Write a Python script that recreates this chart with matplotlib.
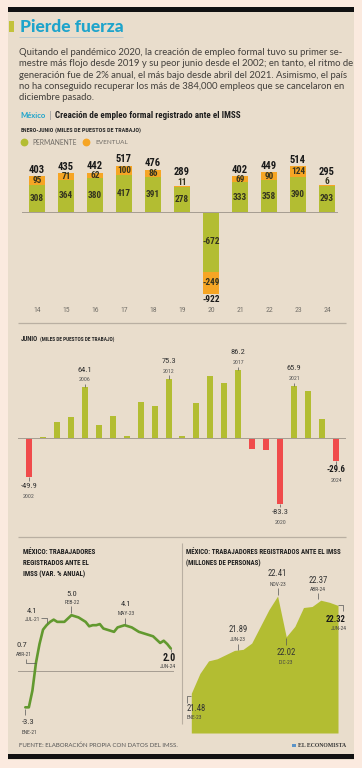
import numpy as np
import matplotlib
matplotlib.use("Agg")
import matplotlib.pyplot as plt
from matplotlib.transforms import Affine2D
from matplotlib.lines import Line2D
from matplotlib.patches import Rectangle
from matplotlib import font_manager as fm

# ---------------- data ----------------
h1_years = ["14", "15", "16", "17", "18", "19", "20", "21", "22", "23", "24"]
h1_permanente = [308, 364, 380, 417, 391, 278, -672, 333, 358, 390, 293]
h1_eventual = [95, 71, 62, 100, 86, 11, -249, 69, 90, 124, 6]
h1_total = [403, 435, 442, 517, 476, 289, -922, 402, 449, 514, 295]

junio_years = list(range(2002, 2025))
junio_vals = [-49.9, 1.5, 19.9, 26.0, 64.1, 16.0, 28.0, 2.5, 46.0, 40.0, 75.3, 2.5,
              44.0, 79.0, 69.0, 86.2, -14.0, -15.0, -83.3, 65.9, 60.0, 23.6, -29.6]
junio_marked = [2002, 2006, 2012, 2017, 2020, 2021, 2024]

MES = ["ENE", "FEB", "MAR", "ABR", "MAY", "JUN", "JUL", "AGO", "SEP", "OCT", "NOV", "DIC"]
var_meses = [f"{m}-{y}" for y in (21, 22, 23, 24) for m in MES][:42]
var_anual = [-3.3, -3.3, -1.8, 0.7, 2.4, 3.7, 4.1, 4.4, 4.6, 4.4, 4.4, 4.4,
             4.7, 5.0, 4.9, 4.8, 4.6, 4.4, 4.0, 4.1, 4.1, 4.2, 3.8, 3.7,
             3.6, 3.5, 3.9, 4.0, 4.1, 4.0, 3.9, 3.7, 3.5, 3.4, 3.3, 3.2,
             3.1, 2.8, 2.5, 2.7, 2.4, 2.0]

emp_meses = [f"{m}-{y}" for y in (23, 24) for m in MES][:18]
emp_millones = [21.48, 21.67, 21.79, 21.81, 21.85, 21.89, 21.90, 21.96, 22.12,
                22.28, 22.41, 22.02, 22.12, 22.30, 22.31, 22.37, 22.35, 22.32]

paragraph = [
    "Quitando el pandémico 2020, la creación de empleo formal tuvo su primer se-",
    "mestre más flojo desde 2019 y su peor junio desde el 2002; en tanto, el ritmo de",
    "generación fue de 2% anual, el más bajo desde abril del 2021. Asimismo, el país",
    "no ha conseguido recuperar los más de 384,000 empleos que se cancelaron en",
    "diciembre pasado.",
]

# ---------------- style ----------------
W, H, DPI = 362, 768, 100
OUTER = "#fbeadf"
PANEL = "#e9ddcc"
GREEN = "#b3bd32"
ORANGE = "#f6a524"
RED = "#f04b4b"
LINEG = "#62992f"
CYAN = "#1ea4cb"
SEP = "#b9afa2"
DARK = "#2a2a2a"

names = {f.name for f in fm.fontManager.ttflist}


def pick(cands, default="DejaVu Sans"):
    for c in cands:
        if c in names:
            return c
    return default


COND = pick(["Roboto Condensed", "Liberation Sans Narrow", "DejaVu Sans Condensed",
             "Open Sans Condensed"], None)
CSTR = "normal"
if COND is None:
    for nm in ["Roboto", "Open Sans", "Noto Sans", "DejaVu Sans", "Liberation Sans"]:
        if any(f.name == nm and "condensed" in str(f.stretch) for f in fm.fontManager.ttflist):
            COND = nm
            CSTR = "condensed"
            break
if COND is None:
    COND = pick(["Roboto", "Lato", "Noto Sans"], "DejaVu Sans")
SANS = pick(["Lato", "Open Sans", "DejaVu Sans"])
SERIF = pick(["Liberation Serif", "DejaVu Serif"])

fig = plt.figure(figsize=(W / DPI, H / DPI), dpi=DPI)
fig.patch.set_facecolor(OUTER)
TPX = Affine2D().scale(1, -1).translate(0, H)
REND = fig.canvas.get_renderer()


def fit(s, width, family=COND, weight="normal", stretch=None, size0=10):
    stretch = CSTR if (stretch is None and family == COND) else (stretch or "normal")
    t = fig.text(0, 0, s, fontsize=size0, family=family, weight=weight, fontstretch=stretch)
    w = t.get_window_extent(renderer=REND).width
    t.remove()
    return size0 * width / w


def tx(x, y, s, size, family=COND, weight="normal", color=DARK, ha="left", va="center", **kw):
    stretch = CSTR if family == COND else "normal"
    return fig.text(x, y, s, transform=TPX, fontsize=size, family=family, weight=weight,
                    color=color, ha=ha, va=va, fontstretch=stretch, **kw)


def pline(xs, ys, color=DARK, lw=0.6, **kw):
    fig.add_artist(Line2D(xs, ys, transform=TPX, color=color, lw=lw,
                          solid_capstyle="butt", **kw))


def ax_at(x0, y0, x1, y1):
    ax = fig.add_axes([x0 / W, 1 - y1 / H, (x1 - x0) / W, (y1 - y0) / H])
    ax.patch.set_visible(False)
    for s in ax.spines.values():
        s.set_visible(False)
    ax.set_xticks([])
    ax.set_yticks([])
    return ax


def to_px(ax, x, y):
    xd, yd = ax.transData.transform((x, y))
    return xd, H - yd


# ---------------- frame ----------------
fig.add_artist(Rectangle((8, 7), 345.5, 752.5, transform=TPX, facecolor=PANEL,
                         edgecolor="none", zorder=-5))
fig.add_artist(Rectangle((8, 7), 345.5, 5.2, transform=TPX, facecolor="#111111",
                         edgecolor="none", zorder=-4))
fig.add_artist(Rectangle((8, 754.3), 345.5, 5.0, transform=TPX, facecolor="#111111",
                         edgecolor="none", zorder=-4))

# ---------------- header ----------------
fig.add_artist(Rectangle((9, 20.5), 5, 11, transform=TPX, facecolor="#c3c23a",
                         edgecolor="none", zorder=-3))
tx(19.5, 26.5, "Pierde fuerza", fit("Pierde fuerza", 103, SANS, "black"), family=SANS,
   weight="black", color=CYAN)
pline([19, 123], [37.3, 37.3], color="#b5c8cf", lw=0.6)

psize = fit(paragraph[0], 326, SANS, "normal")
for k, line in enumerate(paragraph):
    tx(19, 52.5 + 11.25 * k, line, psize, family=SANS, weight="normal", color="#423f3b")

tx(20.5, 115, "México", fit("México", 25.5, SANS, "bold"), family=SANS, weight="bold", color=CYAN)
tx(49, 115, "|", 7.5, family=SANS, color="#9a9a9a")
sub = "Creación de empleo formal registrado ante el IMSS"
tx(55, 115, sub, fit(sub, 184, COND, "bold"), weight="bold", color="#1e1e1e")

tx(20.5, 130, "ENERO-JUNIO", fit("ENERO-JUNIO", 33, COND, "bold"), weight="bold")
par = "(MILES DE PUESTOS DE TRABAJO)"
tx(55, 130.3, par, fit(par, 86, COND, "bold"), weight="bold")

fig.add_artist(Line2D([24.3], [142.3], transform=TPX, marker="o", ms=4.6, color=GREEN, lw=0))
fig.add_artist(Line2D([86], [142.3], transform=TPX, marker="o", ms=4.6, color=ORANGE, lw=0))
tx(32.3, 142.3, "PERMANENTE", fit("PERMANENTE", 43.7, SANS), family=SANS,
   color="#6f6b65")
tx(95, 142.3, "EVENTUAL", fit("EVENTUAL", 32, SANS), family=SANS, color="#6f6b65")

# ---------------- enero-junio stacked bars ----------------
ax1 = ax_at(22, 150, 342, 302)
x1 = np.arange(len(h1_years))
ax1.set_xlim(-0.517, len(h1_years) - 1 + 0.517)
ax1.set_ylim(-(302 - 212) / 0.089, (212 - 150) / 0.089)
ax1.bar(x1, h1_permanente, width=0.55, color=GREEN, lw=0)
ax1.bar(x1, h1_eventual, bottom=h1_permanente, width=0.55, color=ORANGE, lw=0)
ax1.axhline(0, color="#a59d92", lw=0.7, xmax=0.985)

S_tot = fit("403", 16, COND, "bold")
S_seg = fit("308", 14, COND, "bold")
S_neg = fit("-922", 17.5, COND, "bold")
S_yr = fit("20", 7.5, COND)
for i in x1:
    p, e, t = h1_permanente[i], h1_eventual[i], h1_total[i]
    cx, y0 = to_px(ax1, i, 0)
    _, yp = to_px(ax1, i, p)
    _, yt = to_px(ax1, i, p + e)
    tx(cx, (y0 + yp) / 2, str(p), S_seg, weight="bold", color="#34331f", ha="center")
    if t > 0:
        if e >= 30:
            tx(cx, (yp + yt) / 2, str(e), S_seg, weight="bold", color="#34331f", ha="center")
            tx(cx, yt - 6.5, str(t), S_tot, weight="bold", color="#1a1a1a", ha="center")
        else:
            tx(cx, yt - 4.0, str(e), S_seg, weight="bold", color="#34331f", ha="center")
            tx(cx, yt - 13.8, str(t), S_tot, weight="bold", color="#1a1a1a", ha="center")
    else:
        tx(cx, (yp + yt) / 2, str(e), S_seg, weight="bold", color="#34331f", ha="center")
        tx(cx, yt + 5.8, str(t), S_neg, weight="bold", color="#1a1a1a", ha="center")
    tx(cx, 310, h1_years[i], S_yr, color="#77736c", ha="center")

pline([18, 346], [323, 323], color=SEP, lw=0.9)

# ---------------- junio bars ----------------
tx(20.5, 339, "JUNIO", fit("JUNIO", 17.5, COND, "bold"), weight="bold")
tx(39.5, 339.3, par, fit(par, 76, COND, "bold"), weight="bold")

ax2 = ax_at(18, 350, 346, 530)
x2 = np.arange(len(junio_years))
ax2.set_xlim(-11 / 14, len(junio_years) - 1 + 10 / 14)
ax2.set_ylim(-(530 - 438) / 0.79, (438 - 350) / 0.79)
ax2.bar(x2, junio_vals, width=0.43, lw=0,
        color=[GREEN if v >= 0 else RED for v in junio_vals])
ax2.axhline(0, color="#a59d92", lw=0.7)

S_jv = fit("64.1", 14.5, COND)
S_jvb = fit("-29.6", 19, COND, "bold")
S_jy = fit("2006", 11.5, COND)
for yr in junio_marked:
    i = junio_years.index(yr)
    v = junio_vals[i]
    cx, yv = to_px(ax2, i, v)
    last = yr == junio_years[-1]
    vs = f"{v:.1f}"
    if v >= 0:
        pline([cx, cx], [yv - 3.2, yv], color="#555", lw=0.5)
        tx(cx, yv - 7.5, str(yr), S_jy, color="#555", ha="center")
        tx(cx, yv - 17.5, vs, S_jv, color="#333", ha="center")
    else:
        pline([cx, cx], [yv, yv + 3.2], color="#555", lw=0.5)
        if last:
            tx(cx, yv + 8.5, vs, S_jvb, weight="bold", color="#1a1a1a", ha="center")
        else:
            tx(cx, yv + 8.5, vs, S_jv, color="#333", ha="center")
        tx(cx, yv + 19, str(yr), S_jy, color="#555", ha="center")

pline([18, 346], [537, 537], color=SEP, lw=0.9)

# ---------------- bottom-left: annual variation ----------------
lt = ["MÉXICO: TRABAJADORES", "REGISTRADOS ANTE EL", "IMSS (VAR. % ANUAL)"]
S_lt = fit(lt[0], 73, COND, "bold")
for k, s in enumerate(lt):
    tx(22.7, 551.7 + 11.5 * k, s, S_lt, weight="bold", color="#1e1e1e")

ax3 = ax_at(18, 590, 175, 725)
x3 = np.arange(len(var_anual))
ax3.set_xlim(-(25.3 - 18) / 3.55, len(var_anual) - 1 + (175 - 170.8) / 3.55)
ax3.set_ylim(-(725 - 670.7) / 11.1, (670.7 - 590) / 11.1)
ax3.axhline(0, color="#a59d92", lw=0.7, xmax=0.99)
ax3.plot(x3, var_anual, color=LINEG, lw=1.9, solid_joinstyle="round", solid_capstyle="round")

S_lv = fit("5.0", 10.5, COND)
S_lm = fit("FEB-22", 15.5, COND)
S_lb = fit("2.0", 13, COND, "bold")


def vpt(lbl):
    i = var_meses.index(lbl)
    return to_px(ax3, i, var_anual[i]), var_anual[i]


(px_, py_), v = vpt("FEB-22")
tx(px_ + 0.5, py_ - 21.5, f"{v:.1f}", S_lv, color="#333", ha="center")
tx(px_ + 0.5, py_ - 12.5, "FEB-22", S_lm, color="#444", ha="center")
pline([px_, px_], [py_ - 9, py_ - 2], color="#555", lw=0.5)

(px_, py_), v = vpt("JUL-21")
tx(px_ - 15, py_ - 14, f"{v:.1f}", S_lv, color="#333", ha="center")
tx(px_ - 13.5, py_ - 5.5, "JUL-21", S_lm, color="#444", ha="center")
pline([px_ - 6, px_ + 0.5, px_ + 0.5], [py_ - 7.5, py_ - 7.5, py_ - 2], color="#555", lw=0.5)

(px_, py_), v = vpt("ABR-21")
tx(px_ - 14.5, py_ - 17.5, f"{v:.1f}", S_lv, color="#333", ha="center")
tx(px_ - 12, py_ - 8, "ABR-21", S_lm, color="#444", ha="center")
pline([px_ - 10, px_ - 10, px_], [py_ - 4, py_, py_], color="#555", lw=0.5)

(px_, py_), v = vpt("ENE-21")
tx(px_ + 3, py_ + 14.4, f"{v:.1f}", S_lv, color="#333", ha="center")
tx(px_ + 4, py_ + 25.4, "ENE-21", S_lm, color="#444", ha="center")
pline([px_, px_], [py_ + 2, py_ + 8], color="#555", lw=0.5)

(px_, py_), v = vpt("MAY-23")
tx(px_ + 1.5, py_ - 21.5, f"{v:.1f}", S_lv, color="#333", ha="center")
tx(px_ + 1.5, py_ - 11.5, "MAY-23", S_lm, color="#444", ha="center")
pline([px_, px_], [py_ - 7.5, py_ - 1], color="#555", lw=0.5)

(px_, py_), v = vpt("JUN-24")
tx(px_ - 1.5, py_ + 9.5, f"{v:.1f}", S_lb, weight="bold", color="#1a1a1a", ha="center")
tx(px_ - 3, py_ + 18.5, "JUN-24", S_lm, color="#444", ha="center")
pline([px_, px_], [py_, py_ + 3.5], color="#555", lw=0.5)

pline([182, 182], [543, 724], color=SEP, lw=0.8)

# ---------------- bottom-right: workers (millions) ----------------
rt1 = "MÉXICO: TRABAJADORES REGISTRADOS ANTE EL IMSS"
rt2 = "(MILLONES DE PERSONAS)"
S_rt = fit(rt1, 155, COND, "bold")
tx(186, 551.7, rt1, S_rt, weight="bold", color="#1e1e1e")
tx(186, 563.7, rt2, S_rt, weight="bold", color="#1e1e1e")

ax4 = ax_at(186, 560, 350, 733)
x4 = np.arange(len(emp_millones))
ax4.set_xlim(-(191.3 - 186) / 8.63, len(emp_millones) - 1 + (350 - 338) / 8.63)
ybot = 21.48 - (733 - 693.3) / 104.6
ax4.set_ylim(ybot, 21.48 + (693.3 - 560) / 104.6)
ax4.fill_between(x4, emp_millones, ybot, color=GREEN, lw=0)

S_rv = fit("22.41", 19, COND)
S_rm = fit("NOV-23", 16.7, COND)
S_rb = fit("22.32", 20, COND, "bold")


def ept(lbl):
    i = emp_meses.index(lbl)
    return to_px(ax4, i, emp_millones[i]), emp_millones[i]


(px_, py_), v = ept("ENE-23")
tx(px_ - 5, py_ + 15, f"{v:.2f}", S_rv, color="#333", ha="left")
tx(px_ - 5, py_ + 24.4, "ENE-23", S_rm, color="#444", ha="left")
pline([px_, px_ - 4.3, px_ - 4.3], [py_ + 2.7, py_ + 2.7, py_ + 9.4], color="#555", lw=0.5)

(px_, py_), v = ept("JUN-23")
tx(px_ + 3.5, py_ - 21, f"{v:.2f}", S_rv, color="#333", ha="center")
tx(px_ + 3.5, py_ - 11, "JUN-23", S_rm, color="#444", ha="center")
pline([px_ + 3.5, px_ + 3.5], [py_ - 6.5, py_ - 0.5], color="#555", lw=0.5)

(px_, py_), v = ept("NOV-23")
tx(px_, py_ - 22.7, f"{v:.2f}", S_rv, color="#333", ha="center")
tx(px_, py_ - 12, "NOV-23", S_rm, color="#444", ha="center")
pline([px_, px_], [py_ - 7.7, py_ - 1], color="#555", lw=0.5)

(px_, py_), v = ept("DIC-23")
tx(px_, py_ + 15.4, f"{v:.2f}", S_rv, color="#333", ha="center")
tx(px_, py_ + 25.4, "DIC-23", S_rm, color="#444", ha="center")
pline([px_, px_], [py_ + 1, py_ + 8], color="#555", lw=0.5)

(px_, py_), v = ept("ABR-24")
tx(px_ - 3, py_ - 20, f"{v:.2f}", S_rv, color="#333", ha="center")
tx(px_ - 2.5, py_ - 11, "ABR-24", S_rm, color="#444", ha="center")
pline([px_ - 3, px_ - 3], [py_ - 7.6, py_ - 1], color="#555", lw=0.5)

(px_, py_), v = ept("JUN-24")
tx(px_ - 2.3, py_ + 14, f"{v:.2f}", S_rb, weight="bold", color="#1a1a1a", ha="center")
tx(px_ + 0.7, py_ + 23, "JUN-24", S_rm, color="#444", ha="center")
pline([px_, px_ + 5, px_ + 5], [py_, py_, py_ + 6], color="#555", lw=0.5)

# ---------------- footer ----------------
fs = "FUENTE: ELABORACIÓN PROPIA CON DATOS DEL IMSS."
tx(19.3, 745.7, fs, fit(fs, 160.7, SANS), family=SANS, color="#555")
fig.add_artist(Rectangle((292, 743.5), 3.5, 3.5, transform=TPX, facecolor="#5b93c7",
                         edgecolor="none"))
tx(297.5, 745.7, "EL ECONOMISTA", fit("EL ECONOMISTA", 48, SERIF, "bold"), family=SERIF,
   weight="bold", color="#333")

fig.savefig("out.png", dpi=DPI, facecolor=OUTER)
